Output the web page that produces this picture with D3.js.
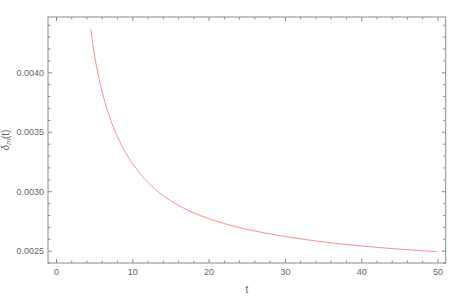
<!DOCTYPE html>
<html>
<head>
<meta charset="utf-8">
<script src="https://cdn.jsdelivr.net/npm/d3@7"></script>
<style>
  html, body { margin: 0; padding: 0; background: #fff; }
  svg { display: block; font-family: "Liberation Sans", Arial, sans-serif; }
</style>
</head>
<body>
<script>
// ---- data ----
const tValues = [4.55, 5.0, 5.5, 6.0, 6.5, 7.0, 7.5, 8.0, 9.0, 10.0, 11.0, 12.0, 13.0, 14.0,
                 16.0, 18.0, 20.0, 22.5, 25.0, 30.0, 35.0, 40.0, 45.0, 50.0];
const deltaValues = [0.004364, 0.00416, 0.00399, 0.00385, 0.00373, 0.00363, 0.00354, 0.003465,
                     0.003338, 0.003235, 0.00315, 0.003078, 0.003017, 0.002965,
                     0.002883, 0.00282, 0.00277, 0.00272, 0.00268, 0.00262,
                     0.002574, 0.00254, 0.002513, 0.002491];
const xMajorTicks = [0, 10, 20, 30, 40, 50];
const xMinorTicks = [2, 4, 6, 8, 12, 14, 16, 18, 22, 24, 26, 28, 32, 34, 36, 38, 42, 44, 46, 48];
const yMajorTicks = [0.0025, 0.0030, 0.0035, 0.0040];
const yMinorTicks = [0.0024, 0.0026, 0.0027, 0.0028, 0.0029, 0.0031, 0.0032, 0.0033, 0.0034,
                     0.0036, 0.0037, 0.0038, 0.0039, 0.0041, 0.0042, 0.0043, 0.0044];
const xDomain = [-1.05, 51.08];
const yDomain = [0.0023966, 0.004465];
const xLabel = "t";

// ---- layout ----
const W = 463, H = 296;
const L = 48, R = 445.7, T = 17, B = 263;
const frameColor = "#8a8a8a";
const textColor = "#666";

const svg = d3.select("body").append("svg").attr("width", W).attr("height", H);

const x = d3.scaleLinear().domain(xDomain).range([L, R]);
const y = d3.scaleLinear().domain(yDomain).range([B, T]);

function styleAxis(g) {
  g.select(".domain").remove();
  g.selectAll(".tick line").attr("stroke", frameColor);
  g.selectAll(".tick text").attr("fill", textColor).attr("font-size", 9);
}

// bottom (labelled)
svg.append("g").attr("transform", `translate(0,${B})`)
  .call(d3.axisBottom(x).tickValues(xMajorTicks).tickSize(-4).tickPadding(6).tickFormat(d3.format("d")))
  .call(styleAxis);
svg.append("g").attr("transform", `translate(0,${B})`)
  .call(d3.axisBottom(x).tickValues(xMinorTicks).tickSize(-2.5).tickFormat(""))
  .call(styleAxis);
// top (mirrored)
svg.append("g").attr("transform", `translate(0,${T})`)
  .call(d3.axisTop(x).tickValues(xMajorTicks).tickSize(-4).tickFormat(""))
  .call(styleAxis);
svg.append("g").attr("transform", `translate(0,${T})`)
  .call(d3.axisTop(x).tickValues(xMinorTicks).tickSize(-2.5).tickFormat(""))
  .call(styleAxis);
// left (labelled)
svg.append("g").attr("transform", `translate(${L},0)`)
  .call(d3.axisLeft(y).tickValues(yMajorTicks).tickSize(-4).tickPadding(4).tickFormat(d3.format(".4f")))
  .call(styleAxis);
svg.append("g").attr("transform", `translate(${L},0)`)
  .call(d3.axisLeft(y).tickValues(yMinorTicks).tickSize(-2.5).tickFormat(""))
  .call(styleAxis);
// right (mirrored)
svg.append("g").attr("transform", `translate(${R},0)`)
  .call(d3.axisRight(y).tickValues(yMajorTicks).tickSize(-4).tickFormat(""))
  .call(styleAxis);
svg.append("g").attr("transform", `translate(${R},0)`)
  .call(d3.axisRight(y).tickValues(yMinorTicks).tickSize(-2.5).tickFormat(""))
  .call(styleAxis);

// frame
svg.append("rect")
  .attr("x", L).attr("y", T).attr("width", R - L).attr("height", B - T)
  .attr("fill", "none").attr("stroke", frameColor).attr("stroke-width", 1);

// curve
const pts = tValues.map((t, i) => [t, deltaValues[i]]);
svg.append("clipPath").attr("id", "clip")
  .append("rect").attr("x", L).attr("y", T).attr("width", R - L).attr("height", B - T);
svg.append("path")
  .datum(pts)
  .attr("clip-path", "url(#clip)")
  .attr("fill", "none")
  .attr("stroke", "#ff7777")
  .attr("stroke-width", 0.85)
  .attr("d", d3.line().x(d => x(d[0])).y(d => y(d[1])).curve(d3.curveMonotoneX));

// axis titles
svg.append("text")
  .attr("x", (L + R) / 2).attr("y", 293)
  .attr("text-anchor", "middle").attr("font-size", 10).attr("fill", textColor)
  .text(xLabel);

const yl = svg.append("text")
  .attr("transform", `translate(8.5,${(T + B) / 2}) rotate(-90)`)
  .attr("text-anchor", "middle").attr("font-size", 10).attr("fill", textColor);
yl.append("tspan").attr("font-style", "italic").text("δ");
yl.append("tspan").attr("font-style", "italic").attr("font-size", 7).attr("dy", 2).text("m");
yl.append("tspan").attr("dy", -2).text("(t)");
</script>
</body>
</html>
